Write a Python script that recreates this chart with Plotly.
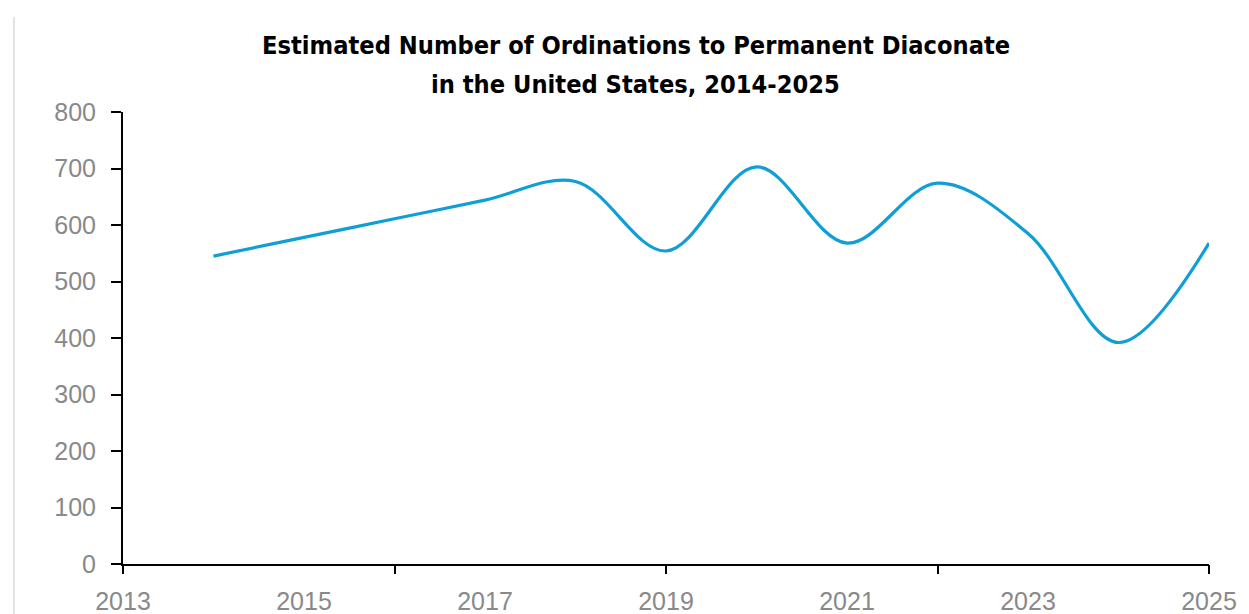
import plotly.graph_objects as go

# Data
years = [2014, 2015, 2016, 2017, 2018, 2019, 2020, 2021, 2022, 2023, 2024, 2025]
ordinations = [545, 578, 611, 644, 677, 554, 703, 568, 674, 585, 392, 568]

label_years = [2013, 2015, 2017, 2019, 2021, 2023, 2025]
tick_mark_years = [2013, 2016, 2019, 2022, 2025]
y_ticks = [0, 100, 200, 300, 400, 500, 600, 700, 800]

title_lines = ["Estimated Number of Ordinations to Permanent Diaconate",
               "in the United States, 2014-2025"]

fig = go.Figure()

fig.add_trace(go.Scatter(
    x=years,
    y=ordinations,
    mode="lines",
    line=dict(color="#0F9ED5", width=3.2, shape="spline", smoothing=1.0),
    showlegend=False,
))

# invisible trace so the overlay axis (tick marks only) is drawn
fig.add_trace(go.Scatter(
    x=[tick_mark_years[0]], y=[None], xaxis="x2",
    showlegend=False, hoverinfo="skip",
))

tick_font = dict(family="Liberation Sans, Arial, sans-serif", size=25, color="#898989")
title_font = dict(family="DejaVu Sans Condensed, Liberation Sans, sans-serif", size=25.2, color="#000000")

# the page body adds an 8px margin, so the figure is a bit smaller
fig.update_layout(
    width=1241,
    height=606,
    margin=dict(l=115, r=40, t=104, b=50),
    paper_bgcolor="white",
    plot_bgcolor="white",
    xaxis=dict(
        range=[2013, 2025],
        tickvals=label_years,
        ticktext=[str(v) for v in label_years],
        ticks="",
        showline=True,
        linecolor="black",
        linewidth=2,
        showgrid=False,
        zeroline=False,
        tickfont=tick_font,
        ticklabelstandoff=14,
        automargin=False,
    ),
    xaxis2=dict(
        range=[2013, 2025],
        overlaying="x",
        anchor="y",
        side="bottom",
        tickvals=tick_mark_years,
        showticklabels=False,
        ticks="outside",
        ticklen=9,
        tickwidth=2,
        tickcolor="black",
        showline=False,
        showgrid=False,
        zeroline=False,
        automargin=False,
    ),
    yaxis=dict(
        range=[0, 800],
        tickvals=y_ticks,
        ticks="outside",
        ticklen=10,
        tickwidth=2,
        tickcolor="black",
        showline=True,
        linecolor="black",
        linewidth=2,
        showgrid=False,
        zeroline=False,
        tickfont=tick_font,
        ticklabelstandoff=10,
        automargin=False,
    ),
)

# title as two annotations so each line sits where the reference has it
for text, ypos in zip(title_lines, [1.148, 1.060]):
    fig.add_annotation(
        text="<b>" + text + "</b>",
        xref="paper", yref="paper",
        x=0.472, y=ypos,
        xanchor="center", yanchor="middle",
        showarrow=False,
        font=title_font,
    )

# thin border line at the left edge of the picture
fig.add_shape(type="line", xref="paper", yref="paper",
              x0=-0.1004, x1=-0.1004, y0=-0.12, y1=1.21,
              line=dict(color="#c8c8c8", width=1))

fig.write_html("out.html")
